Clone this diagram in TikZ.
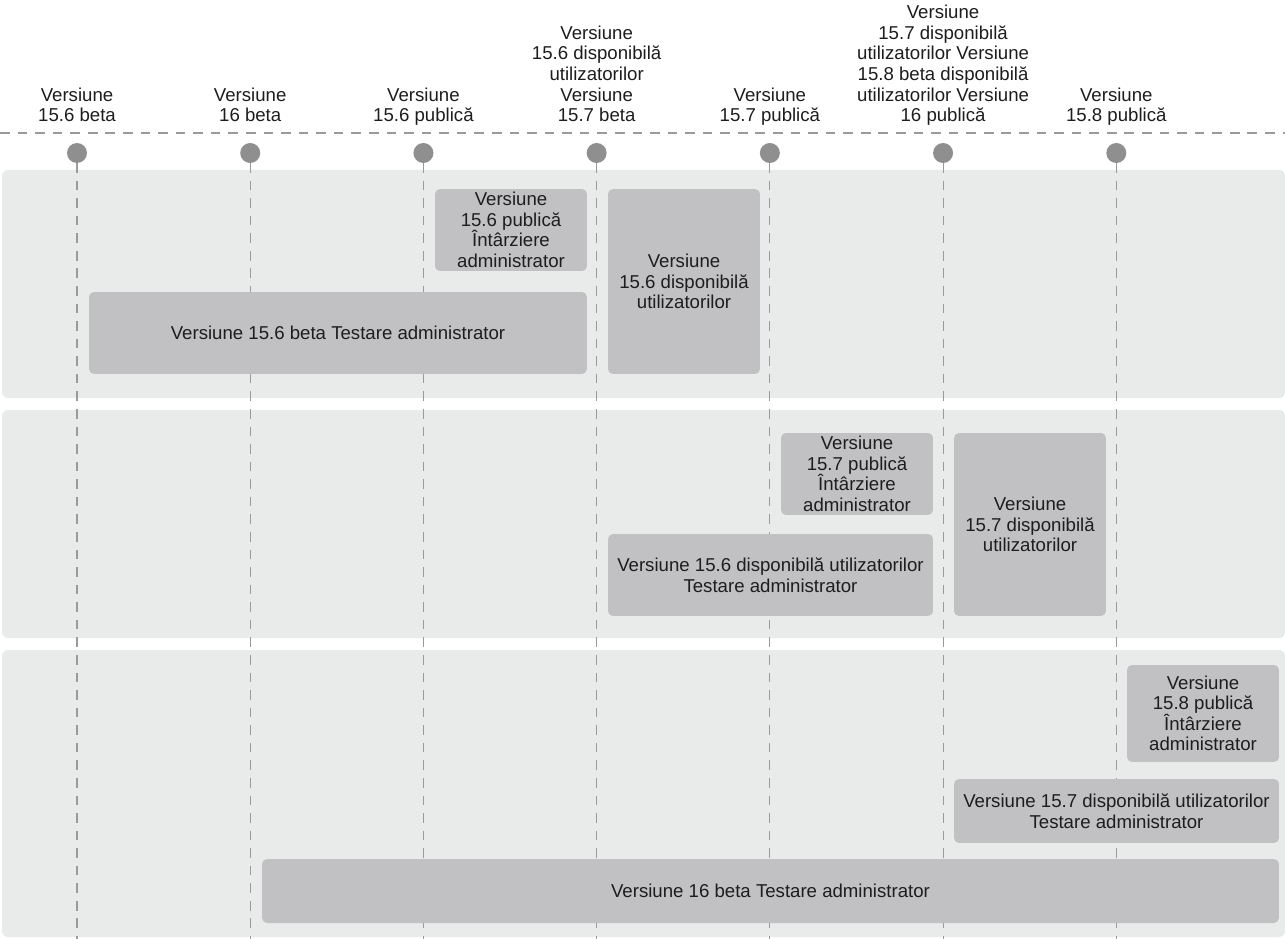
\documentclass[tikz,border=0pt]{standalone}
\usepackage{fontspec}
\setmainfont{Liberation Sans}
\usepackage{tikz}
\usetikzlibrary{positioning}
\definecolor{bandgray}{HTML}{E9EAEA}
\definecolor{bargray}{HTML}{C1C1C3}
\definecolor{dotgray}{HTML}{8F8F8F}
\definecolor{linegray}{HTML}{9A9A9A}
\definecolor{textcol}{HTML}{1D1D1F}
\newcommand{\lbl}{\fontsize{10.6pt}{11.7pt}\selectfont}
\tikzstyle{main node}=[circle, fill=dotgray, inner sep=0pt, outer sep=0pt, minimum size=0.4cm]
\tikzstyle{top label}=[align=center, inner sep=0pt, text depth=0pt, text=textcol, font=\lbl]
\tikzstyle{bar}=[fill=bargray, rounded corners=0.1cm, align=center, inner sep=0pt, text=textcol, font=\lbl]
\tikzstyle{band}=[fill=bandgray, rounded corners=0.12cm]
\tikzstyle{grid line}=[draw=linegray, line width=0.6pt, dash pattern=on 5.5pt off 4.5pt]

\begin{document}
\begin{tikzpicture}[x=0.02cm, y=-0.02cm]

  \useasboundingbox (0,0) rectangle (1285,939);

  % milestones
  \node[main node] (1) at (77,153) {};
  \node[main node] (2) [right = 3.065cm of 1] {};
  \node[main node] (3) [right = 3.065cm of 2] {};
  \node[main node] (4) [right = 3.065cm of 3] {};
  \node[main node] (5) [right = 3.065cm of 4] {};
  \node[main node] (6) [right = 3.065cm of 5] {};
  \node[main node] (7) [right = 3.065cm of 6] {};

  \node[top label] (beta156) [above = 0.42cm of 1] {Versiune\\15.6 beta};
  \node[top label] (beta16) [above = 0.42cm of 2] {Versiune\\16 beta};
  \node[top label] (pub156) [above = 0.42cm of 3] {Versiune\\15.6 publică};
  \node[top label] (avail156) [above = 0.42cm of 4] {Versiune\\15.6 disponibilă\\utilizatorilor\\Versiune\\15.7 beta};
  \node[top label] (pub157) [above = 0.42cm of 5] {Versiune\\15.7 publică};
  \node[top label] (avail157) [above = 0.42cm of 6] {Versiune\\15.7 disponibilă\\utilizatorilor Versiune\\15.8 beta disponibilă\\utilizatorilor Versiune\\16 publică};
  \node[top label] (pub158) [above = 0.42cm of 7] {Versiune\\15.8 publică};

  \coordinate (tl) at (0,133);
  \coordinate (tr) at (1285,133);
  \coordinate (bot) at (0,939);
  \draw[grid line] (tl) -- (tr);

  % bands
  \fill[band] (2,170) rectangle (1285,398);
  \fill[band] (2,410) rectangle (1285,638);
  \fill[band] (2,650) rectangle (1285,937);

  \draw[grid line] (1) -- (1 |- bot);
  \draw[grid line] (2) -- (2 |- bot);
  \draw[grid line] (3) -- (3 |- bot);
  \draw[grid line] (4) -- (4 |- bot);
  \draw[grid line] (5) -- (5 |- bot);
  \draw[grid line] (6) -- (6 |- bot);
  \draw[grid line] (7) -- (7 |- bot);

  % first band
  \node[bar, minimum width=3.04cm, minimum height=1.64cm] (1a) at (511,230) {Versiune\\15.6 publică\\Întârziere\\administrator};
  \node[bar, minimum width=9.96cm, minimum height=1.64cm] (1b) at (338,333) {Versiune 15.6 beta Testare administrator};
  \node[bar, minimum width=3.04cm, minimum height=3.70cm] (1c) at (684,281.5) {Versiune\\15.6 disponibilă\\utilizatorilor};

  % second band
  \node[bar, minimum width=3.04cm, minimum height=1.64cm] (2a) at (857,474) {Versiune\\15.7 publică\\Întârziere\\administrator};
  \node[bar, minimum width=6.5cm, minimum height=1.64cm] (2b) at (770.5,575) {Versiune 15.6 disponibilă utilizatorilor\\Testare administrator};
  \node[bar, minimum width=3.04cm, minimum height=3.66cm] (2c) at (1030,524.5) {Versiune\\15.7 disponibilă\\utilizatorilor};

  % third band
  \node[bar, minimum width=3.04cm, minimum height=1.94cm] (3a) at (1203,713.5) {Versiune\\15.8 publică\\Întârziere\\administrator};
  \node[bar, minimum width=6.5cm, minimum height=1.28cm] (3b) at (1116.5,811) {Versiune 15.7 disponibilă utilizatorilor\\Testare administrator};
  \node[bar, minimum width=20.34cm, minimum height=1.28cm] (3c) at (770.5,891) {Versiune 16 beta Testare administrator};

\end{tikzpicture}
\end{document}
